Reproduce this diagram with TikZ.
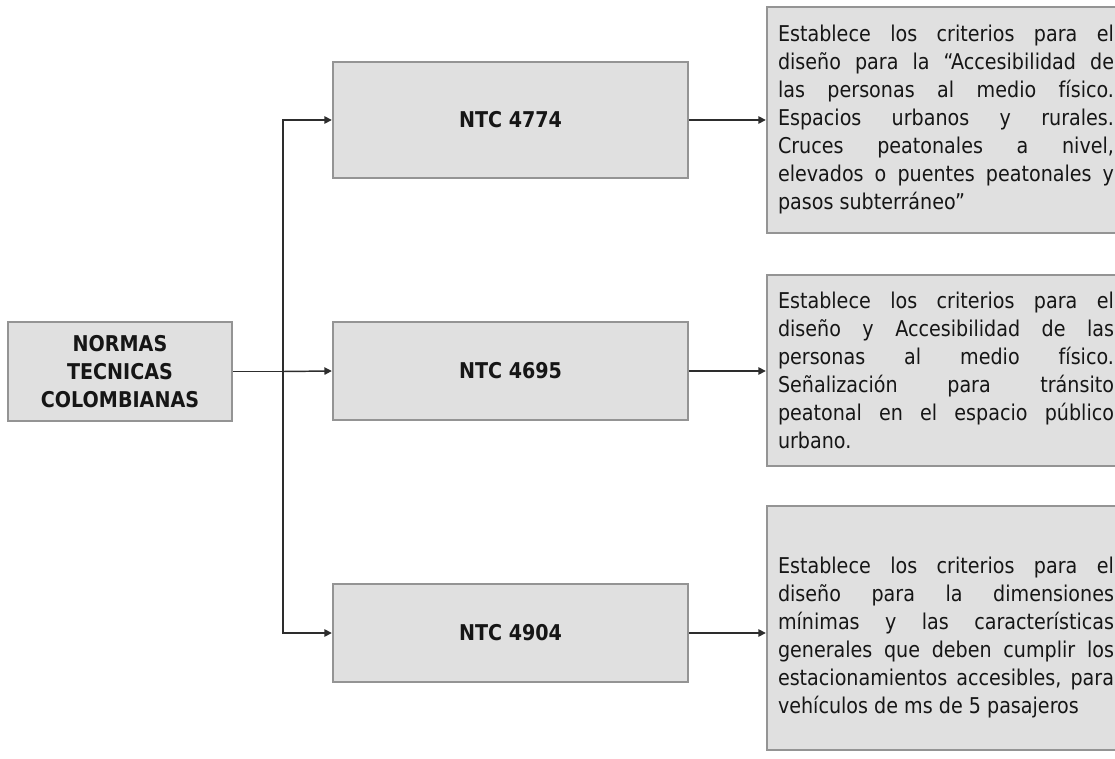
\documentclass[tikz,border=0pt]{standalone}
\usepackage{fontspec}
\setmainfont{DejaVu Sans}[FakeStretch=0.88]
\usetikzlibrary{arrows.meta}
\definecolor{boxfill}{RGB}{224,224,224}
\definecolor{boxline}{RGB}{148,148,148}
\definecolor{wire}{RGB}{45,45,45}
\definecolor{ink}{RGB}{22,22,22}
\tikzset{
  box/.style={draw=boxline, line width=1.8pt, fill=boxfill, rectangle,
    text=ink, inner sep=0pt},
  titlebox/.style={box, font=\fontsize{16.3}{21}\selectfont\bfseries, align=center},
  notetext/.style={text=ink, inner sep=0pt, text width=252pt, align=justify,
    font=\fontsize{16.3}{21}\selectfont},
  notebox/.style={box, notetext},
  link/.style={draw=wire, line width=1.1pt},
  arr/.style={link, -{Triangle[length=5.5pt,width=5.5pt]}}
}
\tolerance=10000
\hbadness=10000
\frenchspacing
\begin{document}
\begin{tikzpicture}[x=0.75pt,y=-0.75pt]
\clip (0,0) rectangle (1115,759);

% root
\node[titlebox, minimum width=168pt, minimum height=74.25pt] (root) at (120,371.5)
  {NORMAS\\TECNICAS\\COLOMBIANAS};

% standards
\node[titlebox, minimum width=266.25pt, minimum height=87pt] (m1) at (510.5,120) {NTC 4774};
\node[titlebox, minimum width=266.25pt, minimum height=73.5pt] (m2) at (510.5,371) {NTC 4695};
\node[titlebox, minimum width=266.25pt, minimum height=73.5pt] (m3) at (510.5,633) {NTC 4904};

% descriptions
\node[notebox, minimum width=268.5pt, minimum height=169.5pt] (r1) at (946,120)
  {Establece los criterios para el\linebreak
   diseño para la “Accesibilidad de\linebreak
   las personas al medio físico.\linebreak
   Espacios urbanos y rurales.\linebreak
   Cruces peatonales a nivel,\linebreak
   elevados o puentes peatonales y\linebreak
   pasos subterráneo”};
\node[notebox, minimum width=268.5pt, minimum height=143.25pt] (r2) at (946,370.5)
  {Establece los criterios para el\linebreak
   diseño y Accesibilidad de las\linebreak
   personas al medio físico.\linebreak
   Señalización para tránsito\linebreak
   peatonal en el espacio público\linebreak
   urbano.};
\node[box, minimum width=268.5pt, minimum height=183pt] (r3) at (946,628) {};
\node[notetext] (r3text) at (946,638)
  {Establece los criterios para el\linebreak
   diseño para la dimensiones\linebreak
   mínimas y las características\linebreak
   generales que deben cumplir los\linebreak
   estacionamientos accesibles, para\linebreak
   vehículos de ms de 5 pasajeros};

% connectors
\coordinate (t) at (283,371.5);
\draw[link] (root.east) -- (t);
\draw[arr] (t) |- (m1.west);
\draw[arr] (t) -- (m2.west);
\draw[arr] (t) |- (m3.west);
\draw[arr] (m1.east) -- (m1.east -| r1.west);
\draw[arr] (m2.east) -- (m2.east -| r2.west);
\draw[arr] (m3.east) -- (m3.east -| r3.west);
\end{tikzpicture}
\end{document}
